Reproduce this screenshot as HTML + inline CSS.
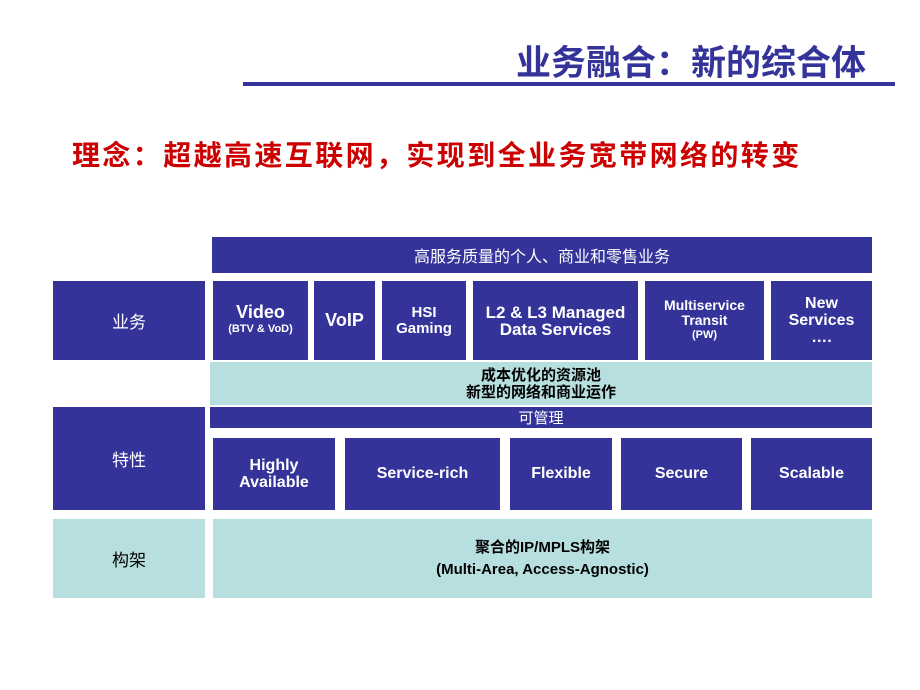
<!DOCTYPE html>
<html><head><meta charset="utf-8"><style>
body{margin:0;width:920px;height:690px;background:#fff;position:relative;overflow:hidden;font-family:"Liberation Sans","Noto Sans CJK SC",sans-serif;}
.a{position:absolute;display:flex;align-items:center;justify-content:center;text-align:center;box-sizing:border-box;}
.d{background:#333399;color:#fff;font-weight:bold;}
.l{background:#b8dfe0;color:#000;}
.s{font-size:11px;}
</style></head><body>
<div class="a" style="left:500px;top:36px;width:366px;height:48px;color:#333399;font-size:35px;font-weight:bold;justify-content:flex-end;">业务融合：新的综合体</div>
<div style="position:absolute;left:243px;top:82px;width:652px;height:4px;background:#333399"></div>
<div class="a" style="left:72px;top:134px;width:760px;height:40px;color:#cc0000;font-size:28px;font-weight:bold;letter-spacing:2.4px;justify-content:flex-start;">理念：超越高速互联网，实现到全业务宽带网络的转变</div>

<div class="a d" style="left:212px;top:237px;width:660px;height:36px;font-size:16px;font-weight:normal;">高服务质量的个人、商业和零售业务</div>
<div class="a d" style="left:53px;top:281px;width:152px;height:79px;font-size:17px;font-weight:normal;">业务</div>
<div class="a d" style="left:213px;top:281px;width:95px;height:79px;font-size:18px;flex-direction:column;line-height:17px;">Video<span class="s">(BTV &amp; VoD)</span></div>
<div class="a d" style="left:314px;top:281px;width:61px;height:79px;font-size:18px;">VoIP</div>
<div class="a d" style="left:382px;top:281px;width:84px;height:79px;font-size:15px;line-height:16px;">HSI<br>Gaming</div>
<div class="a d" style="left:473px;top:281px;width:165px;height:79px;font-size:17px;line-height:17px;">L2 &amp; L3 Managed<br>Data Services</div>
<div class="a d" style="left:645px;top:281px;width:119px;height:79px;font-size:14px;flex-direction:column;line-height:15px;">Multiservice<br>Transit<span class="s">(PW)</span></div>
<div class="a d" style="left:771px;top:281px;width:101px;height:79px;font-size:16px;line-height:17px;">New<br>Services<br>….</div>
<div class="a l" style="left:210px;top:362px;width:662px;height:43px;font-size:15px;font-weight:bold;line-height:17px;">成本优化的资源池<br>新型的网络和商业运作</div>
<div class="a d" style="left:210px;top:407px;width:662px;height:21px;font-size:15px;font-weight:normal;">可管理</div>
<div class="a d" style="left:53px;top:407px;width:152px;height:103px;font-size:17px;font-weight:normal;">特性</div>
<div class="a d" style="left:213px;top:438px;width:122px;height:72px;font-size:16px;line-height:17px;">Highly<br>Available</div>
<div class="a d" style="left:345px;top:438px;width:155px;height:72px;font-size:16px;">Service-rich</div>
<div class="a d" style="left:510px;top:438px;width:102px;height:72px;font-size:16px;">Flexible</div>
<div class="a d" style="left:621px;top:438px;width:121px;height:72px;font-size:16px;">Secure</div>
<div class="a d" style="left:751px;top:438px;width:121px;height:72px;font-size:16px;">Scalable</div>
<div class="a l" style="left:53px;top:519px;width:152px;height:79px;font-size:17px;">构架</div>
<div class="a l" style="left:213px;top:519px;width:659px;height:79px;font-size:15px;font-weight:bold;line-height:22px;">聚合的IP/MPLS构架<br>(Multi-Area, Access-Agnostic)</div>
</body></html>
